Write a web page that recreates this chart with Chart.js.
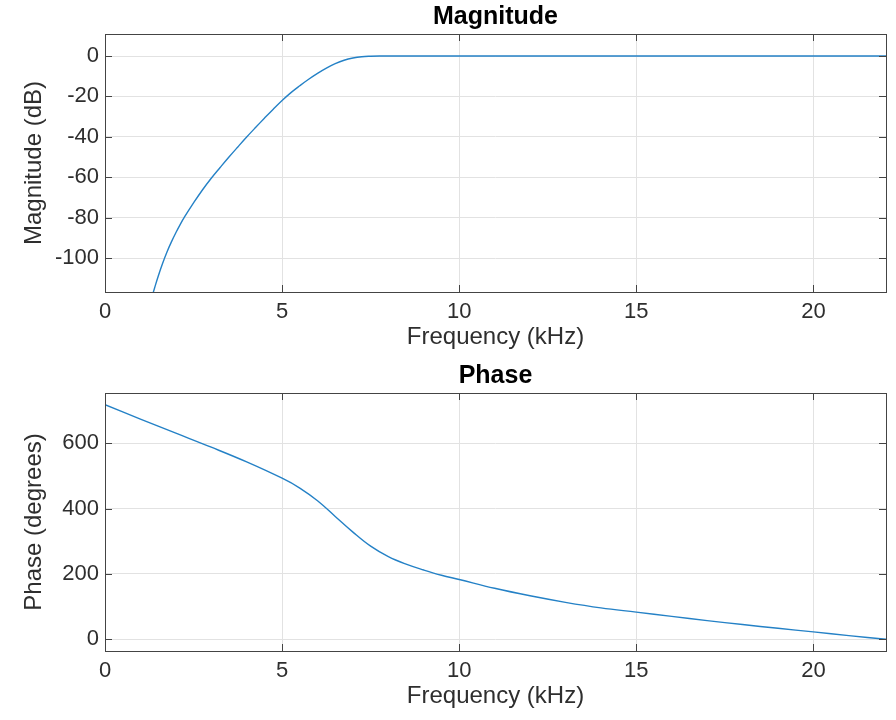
<!DOCTYPE html>
<html>
<head>
<meta charset="utf-8">
<script src="https://cdn.jsdelivr.net/npm/chart.js@4"></script>
<style>
  html, body { margin: 0; padding: 0; background: #fff; }
  .plot { position: absolute; left: 0; width: 896px; height: 360px; }
</style>
</head>
<body>
<div class="plot" style="top:0"><canvas id="mag-chart" width="896" height="360"></canvas></div>
<div class="plot" style="top:359px"><canvas id="phase-chart" width="896" height="360"></canvas></div>
<script>
// Frequency response data

const freqTicks = [0, 5, 10, 15, 20];
const freqMax = 22.05;

const magFreq = [1.33, 1.4, 1.5, 1.625, 1.75, 1.875, 2.0, 2.125, 2.25, 2.5, 2.75, 3.0, 3.25, 3.5, 3.75, 4.0, 4.25, 4.5, 4.75, 5.0,
    5.25, 5.5, 5.75, 6.0, 6.25, 6.5, 6.75, 7.0, 7.25, 7.5, 7.75, 8, 10, 15, 20, 22.05];
const magDb = [-118.9, -114.8, -109.1, -102.7, -97.0, -92.0, -87.5, -83.3, -79.5, -72.7, -66.3, -60.5, -55.2, -50.0, -45.0, -40.1, -35.4, -30.8, -26.3, -22.0,
    -18.1, -14.7, -11.5, -8.6, -6.0, -3.8, -2.1, -1.0, -0.35, -0.1, 0, 0, 0, 0, 0, 0];
const magTicks = [-100, -80, -60, -40, -20, 0];

const phaseFreq = [0, 1, 2, 3, 4, 5, 5.5, 6, 6.5, 7, 7.5, 8, 8.5, 9, 9.5, 10, 11, 12, 13, 14, 15, 16, 17, 18, 19, 20, 21, 22.05];
const phaseDeg = [718, 674, 631, 588, 543, 493, 463, 424, 376, 328, 285, 253, 230, 212, 196, 183, 156, 133, 113, 96, 83, 70, 57, 45, 33.5, 22.5, 11, 0];
const phaseTicks = [0, 200, 400, 600];

const FONT = "'Liberation Sans', Arial, sans-serif";
const TEXT = '#2e2e2e';
const LINE = '#2481c6';

// box around the axes with inward tick marks and a title centred on the axes, like the original
const boxPlugin = {
    id: 'box',
    afterDraw(chart, args, opts) {
        const { ctx, chartArea: a, scales } = chart;
        const len = 7;
        ctx.save();
        ctx.strokeStyle = '#444';
        ctx.lineWidth = 1;
        ctx.beginPath();
        scales.x.ticks.forEach(t => {
            const x = Math.round(scales.x.getPixelForValue(t.value)) + 0.5;
            ctx.moveTo(x, a.bottom); ctx.lineTo(x, a.bottom - len);
            ctx.moveTo(x, a.top); ctx.lineTo(x, a.top + len);
        });
        scales.y.ticks.forEach(t => {
            const y = Math.round(scales.y.getPixelForValue(t.value)) + 0.5;
            ctx.moveTo(a.left, y); ctx.lineTo(a.left + len, y);
            ctx.moveTo(a.right, y); ctx.lineTo(a.right - len, y);
        });
        ctx.stroke();
        ctx.strokeRect(Math.round(a.left) + 0.5, Math.round(a.top) + 0.5,
            Math.round(a.right - a.left), Math.round(a.bottom - a.top));

        ctx.fillStyle = '#000';
        ctx.font = 'bold 25px ' + FONT;
        ctx.textAlign = 'center';
        ctx.textBaseline = 'middle';
        ctx.fillText(opts.text, (a.left + a.right) / 2, 17);
        ctx.restore();
    }
};

function makePlot(id, title, xs, ys, yTicks, yMin, yMax, yLabel) {
    const ctx = document.getElementById(id).getContext('2d');
    return new Chart(ctx, {
        type: 'line',
        data: {
            datasets: [{
                data: xs.map((x, i) => ({ x: x, y: ys[i] })),
                borderColor: LINE,
                borderWidth: 1.4,
                pointRadius: 0,
                fill: false,
                tension: 0.4
            }]
        },
        options: {
            responsive: false,
            animation: false,
            events: [],
            layout: { padding: { left: 0, right: 10, top: 34, bottom: 0 } },
            plugins: {
                legend: { display: false },
                tooltip: { enabled: false },
                title: { display: false },
                box: { text: title }
            },
            scales: {
                x: {
                    type: 'linear',
                    min: 0,
                    max: freqMax,
                    afterBuildTicks: s => { s.ticks = freqTicks.map(v => ({ value: v })); },
                    afterFit: s => { s.height = 68; },
                    grid: { color: '#e2e2e2', lineWidth: 1, drawTicks: false },
                    border: { display: false },
                    ticks: { color: TEXT, padding: 7, maxRotation: 0, font: { family: FONT, size: 22 } },
                    title: {
                        display: true,
                        text: 'Frequency (kHz)',
                        color: TEXT,
                        font: { family: FONT, size: 24, lineHeight: 1.2 },
                        padding: { top: 0, bottom: 8 }
                    }
                },
                y: {
                    type: 'linear',
                    min: yMin,
                    max: yMax,
                    afterBuildTicks: s => { s.ticks = yTicks.map(v => ({ value: v })); },
                    afterFit: s => { s.width = 105; },
                    grid: { color: '#e2e2e2', lineWidth: 1, drawTicks: false },
                    border: { display: false },
                    ticks: { color: TEXT, padding: 6, font: { family: FONT, size: 22 } },
                    title: {
                        display: true,
                        text: yLabel,
                        color: TEXT,
                        font: { family: FONT, size: 24, lineHeight: 1.2 },
                        padding: { top: 20, bottom: 0 }
                    }
                }
            }
        },
        plugins: [boxPlugin]
    });
}

makePlot('mag-chart', 'Magnitude', magFreq, magDb, magTicks, -116.8, 10.9, 'Magnitude (dB)');
makePlot('phase-chart', 'Phase', phaseFreq, phaseDeg, phaseTicks, -36, 754, 'Phase (degrees)');
</script>
</body>
</html>
